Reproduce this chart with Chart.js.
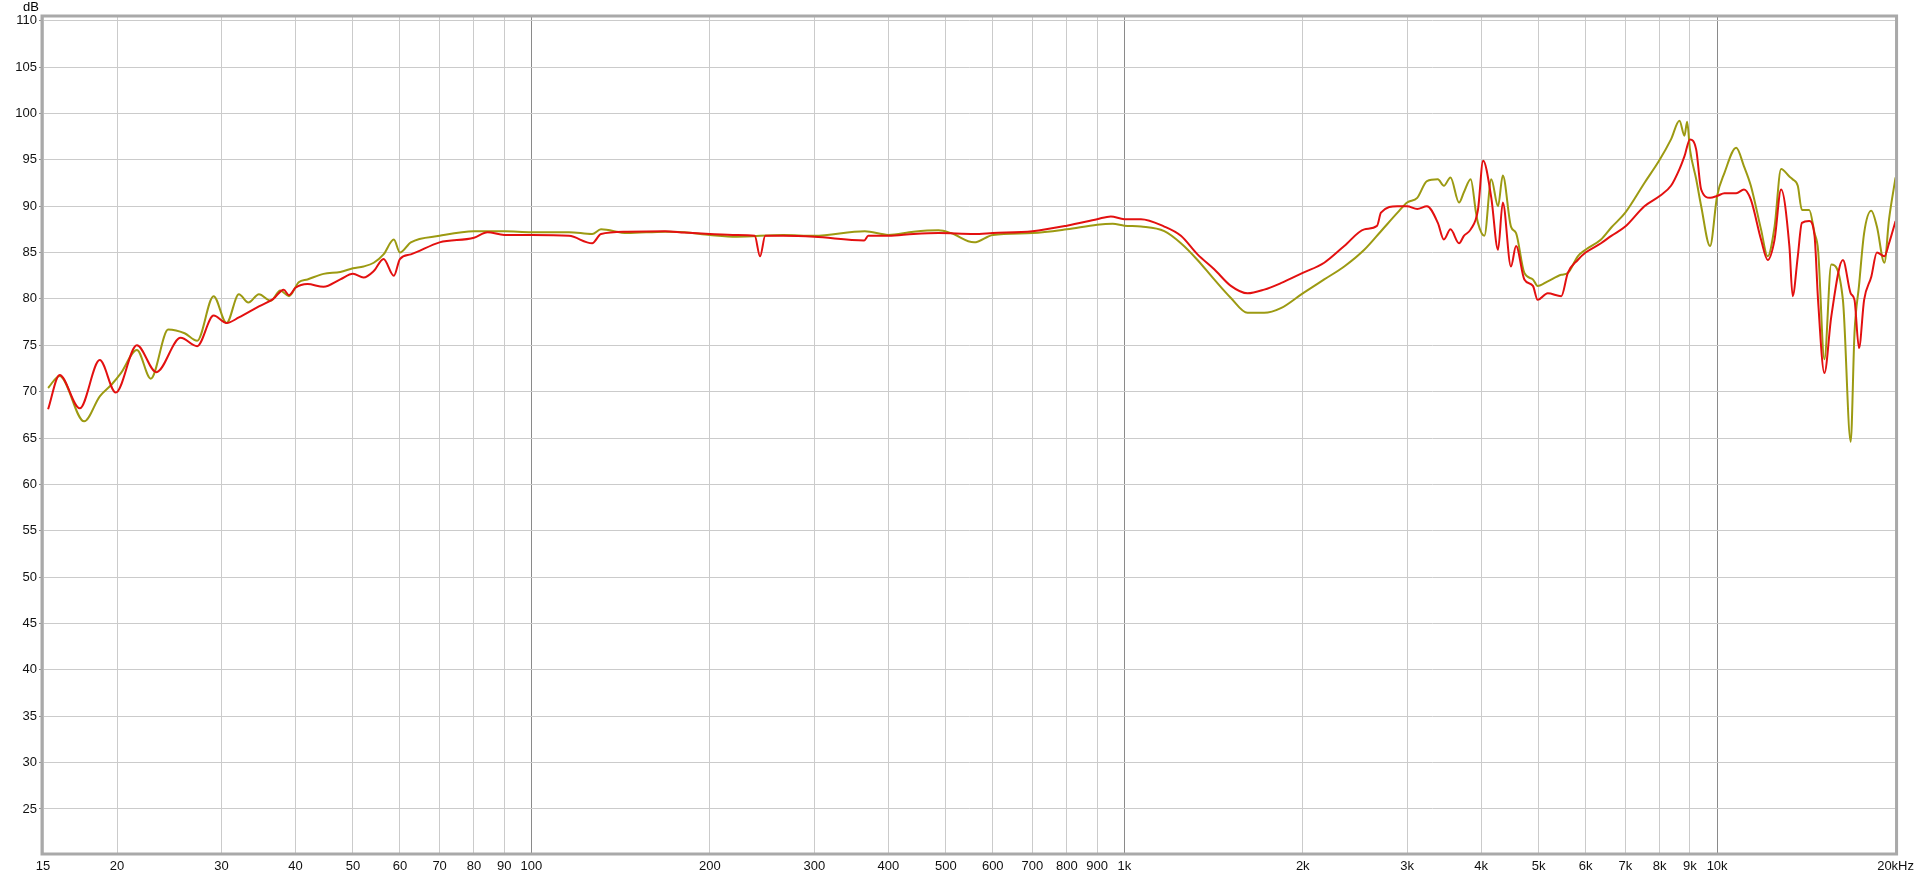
<!DOCTYPE html>
<html>
<head>
<meta charset="utf-8">
<script src="https://cdn.jsdelivr.net/npm/chart.js@4"></script>
<style>
  html, body { margin: 0; padding: 0; background: #fff; }
  canvas { display: block; }
</style>
</head>
<body>
<canvas id="frChart" width="1920" height="879"></canvas>
<script>
// tick values
const xTicks = [15, 20, 30, 40, 50, 60, 70, 80, 90, 100, 200, 300, 400, 500, 600, 700, 800, 900,
    1000, 2000, 3000, 4000, 5000, 6000, 7000, 8000, 9000, 10000, 20000];
const yTicks = [25, 30, 35, 40, 45, 50, 55, 60, 65, 70, 75, 80, 85, 90, 95, 100, 105, 110];

// olive curve (Hz / dB)
const oliveFreq = [15.3, 16.0, 17.6, 18.7, 19.6, 20.3, 21.6, 22.8, 24.4, 26.0, 27.3, 29.1, 30.6, 32.1, 33.3, 34.7,
    36.3, 37.7, 39.0, 40.5, 41.9, 44.6, 47.6, 50, 52.1, 54.2, 56.3, 58.6, 60, 62.6, 70, 80, 90, 100,
    115.7, 126.6, 131, 145, 168, 181, 200, 222, 266, 300, 365, 400, 441, 486, 510, 558, 600, 700, 800, 900, 956,
    1000, 1067, 1168, 1246, 1329, 1418, 1513, 1614, 1722, 1837, 2000, 2174, 2350, 2540, 2710, 2890, 3000,
    3120, 3240, 3380, 3460, 3550, 3670, 3740, 3840, 3920, 3950, 4050, 4160, 4270, 4350, 4490, 4580, 4730,
    4890, 4980, 5180, 5460, 5600, 5820, 6000, 6370, 6630, 7000, 7540, 8000, 8360, 8640, 8810, 8900, 9000,
    9220, 9400, 9730, 10000, 10290, 10770, 11100, 11400, 11860, 12170, 12500, 12820, 13240, 13410, 13680,
    13900, 14300, 14600, 14800, 15170, 15580, 16300, 16800, 17050, 17350, 17700, 18200, 18600, 19150, 19500, 20000];
const oliveDb = [70.4, 71.7, 66.8, 69.5, 70.8, 72.0, 74.5, 71.4, 76.7, 76.3, 75.5, 80.3, 77.4, 80.5, 79.6, 80.5,
    79.8, 80.9, 80.3, 81.8, 82.1, 82.7, 82.9, 83.3, 83.5, 83.9, 84.8, 86.4, 85.0, 86.1, 86.8, 87.3, 87.3, 87.2,
    87.2, 87.0, 87.5, 87.1, 87.25, 87.2, 86.9, 86.7, 86.9, 86.8, 87.3, 86.9, 87.25, 87.4, 87.1, 86.1, 86.9, 87.1, 87.5, 88.0, 88.1,
    87.9, 87.8, 87.3, 86.0, 84.2, 82.1, 80.1, 78.5, 78.5, 79.0, 80.6, 82.1, 83.5, 85.3, 87.3, 89.3, 90.4,
    90.9, 92.7, 92.9, 92.2, 93.1, 90.4, 91.5, 92.9, 89.3, 88.2, 86.8, 92.9, 90.0, 93.3, 87.8, 87.1, 82.8,
    82.1, 81.4, 81.9, 82.6, 82.8, 84.6, 85.3, 86.4, 87.7, 89.3, 92.5, 95.0, 97.2, 99.2, 97.6, 99.1, 96.1,
    92.9, 90.0, 85.7, 91.1, 93.6, 96.3, 94.3, 92.2, 87.5, 84.6, 87.8, 94.0, 93.2, 92.9, 92.2,
    89.6, 89.6, 87.1, 85.3, 73.5, 83.7, 79.9, 64.6, 76.3, 81.4, 87.1, 89.5, 87.8, 83.9, 88.6, 93.1];

// red curve (Hz / dB)
const redFreq = [15.3, 16.0, 17.3, 18.7, 19.9, 21.6, 23.3, 25.6, 27.3, 29.1, 30.6, 32.1, 34.7, 36.7, 38.2, 39.0,
    40, 41.9, 44.6, 47.6, 50, 52.1, 54.2, 56.3, 58.6, 60, 62.6, 70, 80, 84.3, 90, 100,
    115.7, 126.6, 131, 145, 168, 181, 200, 222, 238, 243, 248, 266, 300, 364, 370, 400, 441, 486, 558, 600, 700,
    800, 900, 949, 1000, 1067, 1168, 1246, 1329, 1418, 1513, 1614, 1722, 1837, 2000, 2174, 2350, 2540, 2670,
    2710, 2890, 3000, 3120, 3240, 3380, 3460, 3550, 3670, 3740, 3840, 3950, 4030, 4160, 4270, 4350, 4490,
    4580, 4730, 4890, 4980, 5180, 5460, 5600, 5820, 6000, 6370, 6630, 7000, 7540, 8000, 8360, 8640, 8810,
    9000, 9220, 9400, 9730, 10000, 10290, 10770, 11100, 11400, 11860, 12170, 12500, 12820, 13240, 13410,
    13680, 13900, 14300, 14600, 14800, 15170, 15580, 16300, 16800, 17050, 17350, 17700, 18200, 18600, 19150, 19500, 20000];
const redDb = [68.1, 71.8, 68.2, 73.4, 69.9, 75.0, 72.1, 75.8, 74.9, 78.2, 77.4, 78.0, 79.2, 80.0, 81.0, 80.4,
    81.2, 81.6, 81.3, 82.1, 82.7, 82.3, 83.0, 84.3, 82.5, 84.3, 84.8, 86.1, 86.6, 87.2, 86.9, 86.9,
    86.8, 86.0, 87.0, 87.25, 87.3, 87.15, 87.0, 86.9, 86.8, 84.6, 86.8, 86.8, 86.7, 86.3, 86.8, 86.8, 87.0, 87.1, 87.0, 87.1, 87.3,
    87.9, 88.6, 88.9, 88.6, 88.6, 87.8, 86.8, 84.8, 83.2, 81.4, 80.6, 81.0, 81.7, 82.8, 83.9, 85.7, 87.5, 87.9,
    89.3, 90.0, 90.0, 89.7, 90.0, 88.2, 86.4, 87.5, 86.0, 86.8, 87.5, 89.6, 94.9, 90.9, 85.3, 90.4, 83.5,
    85.7, 82.1, 81.4, 79.9, 80.6, 80.3, 82.8, 84.2, 85.0, 86.0, 86.8, 87.8, 90.0, 91.1, 92.2, 94.0, 95.4,
    97.2, 96.1, 91.8, 90.9, 91.1, 91.4, 91.4, 91.8, 90.7, 86.4, 84.2, 86.4, 91.8, 85.7, 80.3,
    84.6, 88.2, 88.4, 86.8, 79.9, 72.0, 78.1, 84.2, 80.6, 79.9, 74.7, 79.9, 82.4, 85.0, 84.6, 86.0, 88.4];

const decades = [100, 1000, 10000];

function fmtFreq(v) {
    if (v === 20000) return '20kHz';
    if (v >= 1000) return (v / 1000) + 'k';
    return String(v);
}

const framePlugin = {
    id: 'frame',
    afterDraw(chart) {
        const { ctx, chartArea: a } = chart;
        ctx.save();
        ctx.strokeStyle = '#a9a9a9';
        ctx.lineWidth = 3;
        ctx.strokeRect(a.left - 1, a.top - 1, a.right - a.left + 2, a.bottom - a.top + 2);
        ctx.fillStyle = '#000';
        ctx.font = '13px "Liberation Sans", Arial, sans-serif';
        ctx.textAlign = 'center';
        ctx.textBaseline = 'middle';
        ctx.fillText('dB', 31, 7);
        ctx.restore();
    }
};

new Chart(document.getElementById('frChart').getContext('2d'), {
    type: 'line',
    data: {
        datasets: [{
            label: 'Red',
            data: redFreq.map((f, i) => ({ x: f, y: redDb[i] })),
            borderColor: '#e31010',
            borderWidth: 2,
            pointRadius: 0,
            cubicInterpolationMode: 'monotone'
        }, {
            label: 'Olive',
            data: oliveFreq.map((f, i) => ({ x: f, y: oliveDb[i] })),
            borderColor: '#9c9a12',
            borderWidth: 2,
            pointRadius: 0,
            cubicInterpolationMode: 'monotone'
        }]
    },
    options: {
        responsive: false,
        animation: false,
        layout: { padding: { top: 17, right: 21, left: 0, bottom: 0 } },
        plugins: { legend: { display: false }, tooltip: { enabled: false } },
        scales: {
            x: {
                type: 'logarithmic',
                min: 15,
                max: 20000,
                afterBuildTicks: (scale) => { scale.ticks = xTicks.map(v => ({ value: v })); },
                afterFit: (scale) => { scale.height = 26; },
                ticks: {
                    autoSkip: false,
                    maxRotation: 0,
                    padding: 6,
                    color: '#111',
                    font: { family: '"Liberation Sans", Arial, sans-serif', size: 13 },
                    callback: (v) => fmtFreq(v)
                },
                grid: {
                    drawTicks: false,
                    color: (c) => decades.includes(c.tick && c.tick.value) ? '#8a8a8a' : '#cbcbcb',
                    lineWidth: 1
                },
                border: { display: false }
            },
            y: {
                min: 20.25,
                max: 110.4,
                afterBuildTicks: (scale) => { scale.ticks = yTicks.map(v => ({ value: v })); },
                afterFit: (scale) => { scale.width = 43; },
                ticks: {
                    padding: 2,
                    color: '#111',
                    font: { family: '"Liberation Sans", Arial, sans-serif', size: 13 }
                },
                grid: {
                    color: '#cbcbcb',
                    tickLength: 4,
                    tickColor: '#888'
                },
                border: { display: false }
            }
        }
    },
    plugins: [framePlugin]
});
</script>
</body>
</html>
